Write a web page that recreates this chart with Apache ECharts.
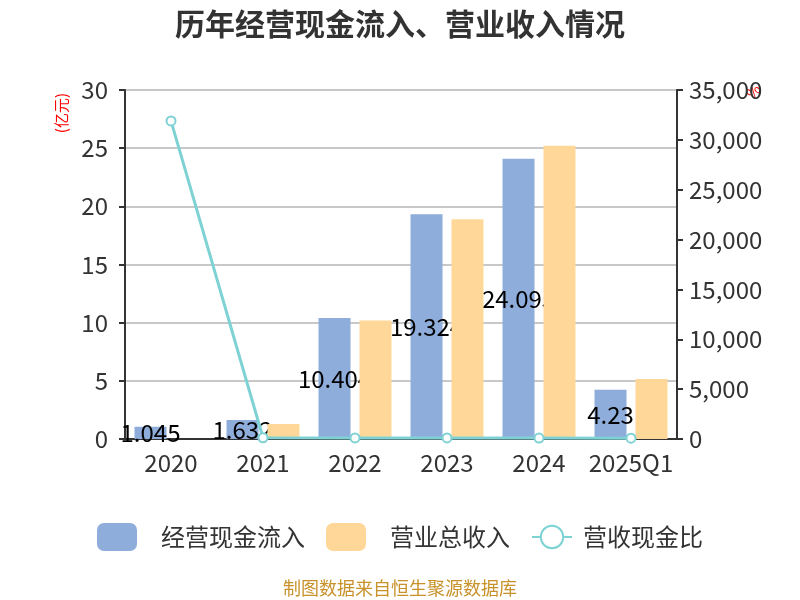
<!DOCTYPE html>
<html>
<head>
<meta charset="utf-8">
<script src="https://cdn.jsdelivr.net/npm/echarts@6/dist/echarts.min.js"></script>
<style>html,body{margin:0;padding:0;background:#fff}#c{width:800px;height:600px}</style>
</head>
<body>
<div id="c"></div>
<script>
var categories = ['2020', '2021', '2022', '2023', '2024', '2025Q1'];
var cashInflow = [1.045, 1.632, 10.404, 19.324, 24.095, 4.23];
var revenue = [0.0033, 1.29, 10.19, 18.9, 25.2, 5.16];
var ratio = [31900, 126, 102, 102, 96, 82];
var leftTicks = [0, 5, 10, 15, 20, 25, 30];
var rightTicks = [0, 5000, 10000, 15000, 20000, 25000, 30000, 35000];

var chart = echarts.init(document.getElementById('c'));
var font = '"Noto Sans CJK SC", "Noto Sans", sans-serif';
chart.setOption({
  animation: false,
  textStyle: { fontFamily: font },
  title: {
    text: '历年经营现金流入、营业收入情况',
    left: 'center', top: 4,
    textStyle: { fontSize: 30, fontWeight: 'bold', color: '#333', fontFamily: font }
  },
  grid: { left: 125, right: 123, top: 90, bottom: 161 },
  legend: {
    top: 518, left: 'center',
    itemWidth: 40, itemHeight: 28, itemGap: 21,
    textStyle: { fontSize: 24, color: '#333', fontFamily: font },
    data: [
      { name: '经营现金流入', icon: 'roundRect', textStyle: { padding: [0, 0, 0, 19] } },
      { name: '营业总收入', icon: 'roundRect', textStyle: { padding: [0, 0, 0, 19] } },
      { name: '营收现金比', itemWidth: 50, textStyle: { padding: [0, 0, 0, 6] } }
    ]
  },
  xAxis: {
    type: 'category', data: categories,
    axisLine: { lineStyle: { color: '#333', width: 2 } },
    axisTick: { length: 6, lineStyle: { color: '#333', width: 2 } },
    axisLabel: { fontSize: 24, color: '#333', margin: 12, interval: 0 }
  },
  yAxis: [
    {
      type: 'value', min: 0, max: 30, interval: 5,
      axisLine: { show: true, lineStyle: { color: '#333', width: 2 } },
      axisTick: { show: true, length: 6, lineStyle: { color: '#333', width: 2 } },
      axisLabel: { fontSize: 24, color: '#333', margin: 17,
        formatter: function (v) { return leftTicks.indexOf(v) >= 0 ? String(v) : ''; } },
      splitLine: { lineStyle: { color: '#c8c8c8', width: 2 } }
    },
    {
      type: 'value', min: 0, max: 35000, interval: 5000,
      axisLine: { show: true, lineStyle: { color: '#333', width: 2 } },
      axisTick: { show: true, length: 6, lineStyle: { color: '#333', width: 2 } },
      axisLabel: { fontSize: 24, color: '#333', margin: 12,
        formatter: function (v) { return rightTicks.indexOf(v) >= 0 ? v.toLocaleString('en-US') : ''; } },
      splitLine: { show: false }
    }
  ],
  series: [
    {
      name: '经营现金流入', type: 'bar', data: cashInflow, z: 2,
      barWidth: 32, barGap: '28%',
      itemStyle: { color: '#8eaddb' },
      label: { show: true, position: 'inside', fontSize: 24, color: '#000', fontFamily: font }
    },
    {
      name: '营业总收入', type: 'bar', data: revenue, z: 3,
      barWidth: 32,
      itemStyle: { color: '#ffd899' }
    },
    {
      name: '营收现金比', type: 'line', data: ratio, yAxisIndex: 1, z: 4,
      symbol: 'emptyCircle', symbolSize: 9,
      lineStyle: { color: '#7fd2d4', width: 3 },
      itemStyle: { color: '#7fd2d4', borderWidth: 2 }
    }
  ],
  graphic: [
    { type: 'text', left: 54, top: 93, rotation: Math.PI / 2,
      style: { text: '(亿元)', fill: '#ff0000', fontSize: 15, fontFamily: font } },
    { type: 'text', left: 743, top: 81, rotation: Math.PI / 4,
      style: { text: '%', fill: '#ff0000', fontSize: 15, fontFamily: font } },
    { type: 'text', left: 'center', top: 579,
      style: { text: '制图数据来自恒生聚源数据库', fill: '#c8922a', fontSize: 18, fontFamily: font } }
  ]
});
</script>
</body>
</html>
